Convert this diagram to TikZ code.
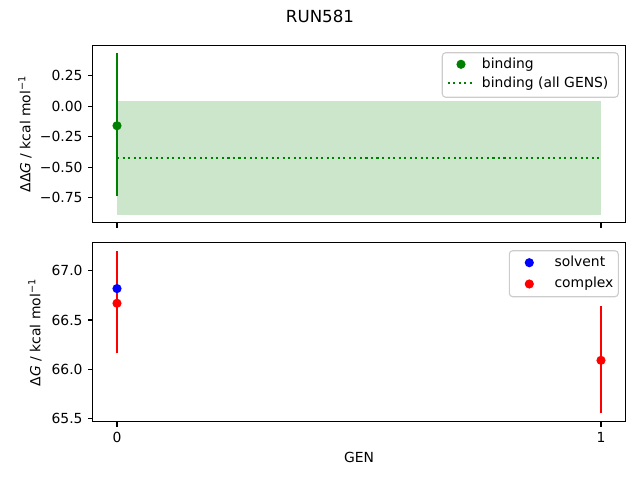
\documentclass[tikz,border=0pt]{standalone}
\usepackage{fontspec}
\setmainfont{DejaVu Sans}
\usepackage{xcolor}
\definecolor{mplgreen}{HTML}{008000}
\definecolor{mplshade}{HTML}{CCE6CC}
\definecolor{mplblue}{HTML}{0000FF}
\definecolor{mplred}{HTML}{FF0000}
\definecolor{legendedge}{HTML}{CCCCCC}

\begin{document}
\begin{tikzpicture}[x=0.72pt,y=0.72pt]

	\tikzstyle{frame} = [line width=0.8pt]
	\tikzstyle{tickmark} = [line width=0.8pt]
	\tikzstyle{ticklabel} = [font=\fontsize{10}{12}\selectfont,inner sep=0pt]
	\tikzstyle{errbar} = [line width=1.5pt]
	\tikzstyle{legendbox} = [draw=legendedge,fill=white,fill opacity=0.8,rounded corners=2.5pt,line width=0.8pt]
	\tikzstyle{legendtext} = [font=\fontsize{10}{12}\selectfont,inner sep=0pt,anchor=base west]

	\useasboundingbox (0,0) rectangle (640,480);

	% title
	\node[font=\fontsize{12}{14}\selectfont] (title) at (320,463.3) {RUN581};

	% upper panel: binding
	\begin{scope}[shift={(117,373.8)},x=348.48pt,y=87.84pt]
		\fill[mplshade] (0,-0.892) rectangle (1,0.043);
		\draw[mplgreen,errbar,dash pattern=on 1.5pt off 2.475pt] (0,-0.422) -- (1,-0.422);
		\draw[mplgreen,errbar] (0,-0.734) -- (0,0.434);
		\fill[mplgreen] (0,-0.16) circle (3.3pt);
		\draw[frame] (-0.05,-0.956) rectangle (1.05,0.5);
		\foreach \v/\t in {0.25/0.25,0/0.00,-0.25/−0.25,-0.5/−0.50,-0.75/−0.75}
			\draw[tickmark] (-0.05,\v) -- ++(-3.5pt,0) node[ticklabel,anchor=east,xshift=-3.5pt] {\t};
		\foreach \g in {0,1}
			\draw[tickmark] (\g,-0.956) -- ++(0,-3.5pt);
	\end{scope}
	\node[rotate=90,font=\fontsize{10}{12}\selectfont] (ylabtop) at (25,346) {ΔΔ\textit{G} / kcal mol\textsuperscript{−1}};

	% upper legend
	\draw[legendbox] (442.3,427.3) rectangle (618.3,382.7);
	\fill[mplgreen] (461,415.7) circle (3.3pt);
	\node[legendtext] (legbind) at (481.7,411.9) {binding};
	\draw[mplgreen,errbar,dash pattern=on 1.5pt off 2.475pt] (447.5,396.7) -- (474.5,396.7);
	\node[legendtext] (legall) at (481.7,392.9) {binding (all GENS)};

	% lower panel: solvent and complex
	\begin{scope}[shift={(117,110.7)},x=348.48pt,y=71.04pt,shift={(0,-66)}]
		\draw[mplred,errbar] (0,66.162) -- (0,67.199);
		\draw[mplred,errbar] (1,65.554) -- (1,66.642);
		\fill[mplblue] (0,66.818) circle (3.3pt);
		\fill[mplred] (0,66.669) circle (3.3pt);
		\fill[mplred] (1,66.091) circle (3.3pt);
		\draw[frame] (-0.05,65.4675) rectangle (1.05,67.2825);
		\foreach \v in {65.5,66.0,66.5,67.0}
			\draw[tickmark] (-0.05,\v) -- ++(-3.5pt,0) node[ticklabel,anchor=east,xshift=-3.5pt] {\v};
		\foreach \g in {0,1}
			\draw[tickmark] (\g,65.4675) -- ++(0,-3.5pt) node[ticklabel,anchor=north,yshift=-3.5pt] {\g};
	\end{scope}
	\node[rotate=90,font=\fontsize{10}{12}\selectfont] (ylabbot) at (35,147.5) {Δ\textit{G} / kcal mol\textsuperscript{−1}};
	\node[font=\fontsize{10}{12}\selectfont] (xlab) at (359,23) {GEN};

	% lower legend
	\draw[legendbox] (509.3,229.3) rectangle (618.3,183.3);
	\fill[mplblue] (529.3,217.3) circle (3.3pt);
	\node[legendtext] (legsolv) at (554.3,213.5) {solvent};
	\fill[mplred] (529.3,196) circle (3.3pt);
	\node[legendtext] (legcomp) at (554.3,192.2) {complex};

\end{tikzpicture}
\end{document}
